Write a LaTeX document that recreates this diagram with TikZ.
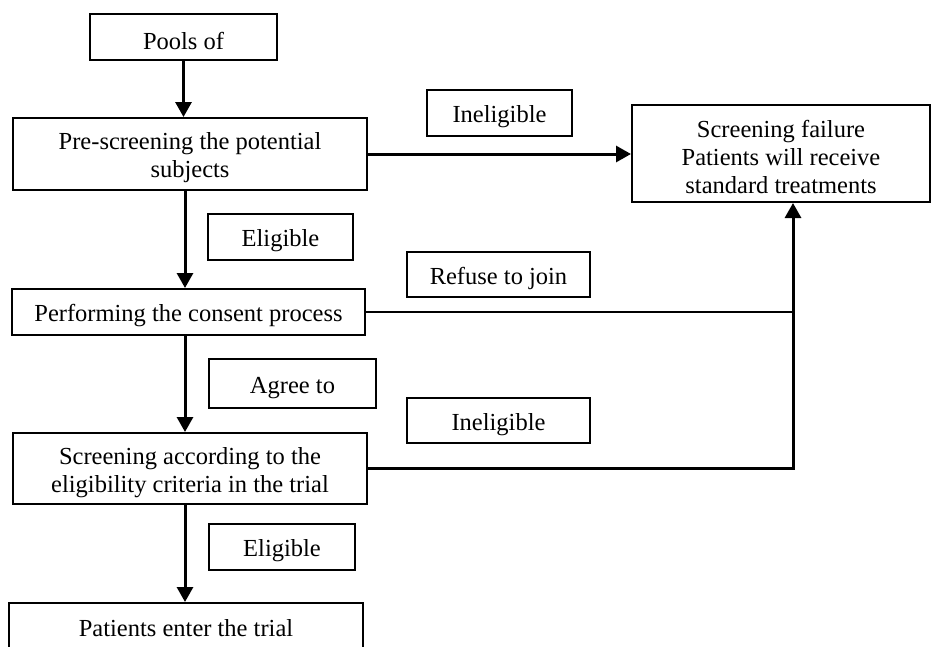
\documentclass[tikz,border=0pt]{standalone}
\usepackage{fontspec}
\setmainfont{Liberation Serif}
\usetikzlibrary{arrows.meta,calc}
\begin{document}
\begin{tikzpicture}[x=1pt,y=-1pt,
  box/.style={draw, line width=2pt, inner sep=0pt, align=center, text height=25pt,
    font=\fontsize{24.5}{28}\selectfont},
  flow/.style={line width=3pt, -{Triangle[length=15pt,width=16pt]}},
  plain/.style={line width=2.2pt}]
\useasboundingbox (0,0) rectangle (934,646);
\clip (0,0) rectangle (934,646);
\node[box, minimum width=187pt, minimum height=46pt] (pools) at (183.5,37) {Pools of};
\node[box, text height=53pt, minimum width=354pt, minimum height=72pt] (pre) at (190,154) {Pre-screening the potential\\subjects};
\node[box, text height=80pt, minimum width=298pt, minimum height=97pt] (fail) at (781,153.5) {Screening failure\\Patients will receive\\standard treatments};
\node[box, minimum width=145pt, minimum height=46pt] (inel1) at (499.5,113) {Ineligible};
\node[box, minimum width=145pt, minimum height=46pt] (elig1) at (280.5,237) {Eligible};
\node[box, minimum width=353pt, minimum height=46pt] (cons) at (188.5,312) {Performing the consent process};
\node[box, minimum width=183pt, minimum height=45pt] (refuse) at (498.5,274.5) {Refuse to join};
\node[box, minimum width=167pt, minimum height=49pt] (agree) at (292.5,383.5) {Agree to};
\node[box, minimum width=183pt, minimum height=45pt] (inel2) at (498.5,420.5) {Ineligible};
\node[box, text height=53pt, minimum width=354pt, minimum height=71pt] (scr) at (190,468.5) {Screening according to the\\eligibility criteria in the trial};
\node[box, minimum width=146pt, minimum height=46pt] (elig2) at (282,547) {Eligible};
\node[box, text height=17pt, minimum width=354pt, minimum height=50pt] (pat) at (186,628) {Patients enter the trial};
\coordinate (up) at ([xshift=12pt]fail.south);
\draw[flow] (pools.south) -- (pools.south |- pre.north);
\draw[flow] (pre.east) -- (pre.east -| fail.west);
\draw[flow] ([xshift=-5pt]pre.south) -- ([xshift=-5pt]pre.south |- cons.north);
\draw[flow] ([xshift=-3.5pt]cons.south) -- ([xshift=-3.5pt]cons.south |- scr.north);
\draw[flow] ([xshift=-5pt]scr.south) -- ([xshift=-5pt]scr.south |- pat.north);
\draw[plain] (cons.east) -- (cons.east -| up);
\draw[flow] (scr.east) -- (scr.east -| up) -- (up);
\end{tikzpicture}
\end{document}
